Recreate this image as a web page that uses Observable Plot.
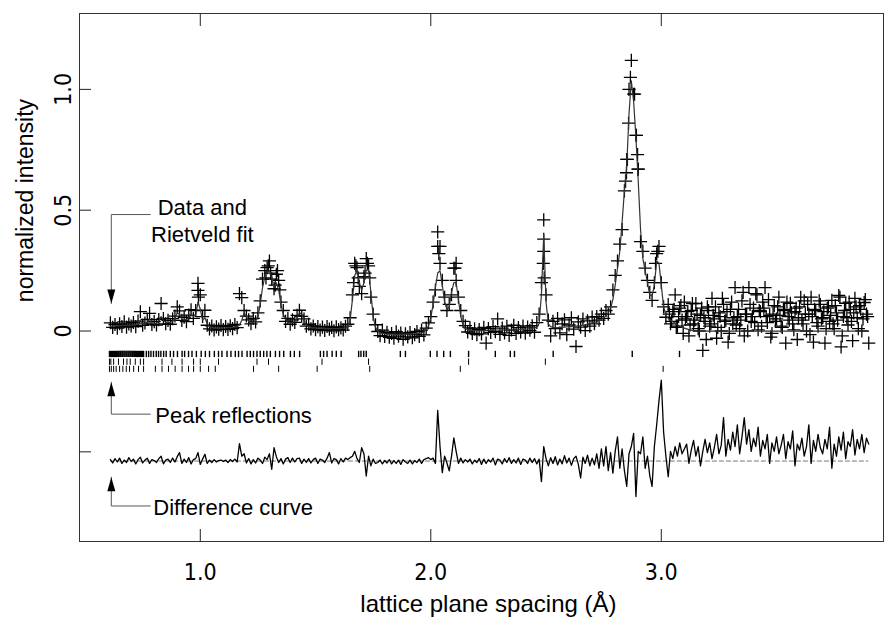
<!DOCTYPE html>
<html><head><meta charset="utf-8">
<script src="https://cdn.jsdelivr.net/npm/d3@7"></script>
<script src="https://cdn.jsdelivr.net/npm/@observablehq/plot@0.6"></script>
<style>
html,body{margin:0;padding:0;background:#fff;}
</style></head><body><div id="chart"></div>
<script>
// lattice plane spacing grid (Å)
const dStart = 0.61, dStep = 0.01;

// Rietveld fit (normalized intensity), one value per grid step
const fitValues = [
0.020,0.020,0.021,0.021,0.022,0.022,0.023,0.023,0.024,0.025,
0.026,0.027,0.032,0.045,0.030,0.028,0.036,0.048,0.033,0.031,
0.032,0.040,0.060,0.045,0.036,0.035,0.036,0.040,0.050,0.075,
0.070,0.050,0.045,0.048,0.055,0.070,0.060,0.065,0.120,0.090,
0.045,0.055,0.030,0.018,0.014,0.012,0.012,0.012,0.013,0.013,
0.013,0.014,0.014,0.015,0.016,0.018,0.025,0.045,0.075,0.060,
0.040,0.035,0.036,0.042,0.060,0.110,0.180,0.225,0.245,0.250,
0.220,0.180,0.200,0.170,0.110,0.070,0.048,0.038,0.034,0.035,
0.040,0.055,0.075,0.070,0.045,0.025,0.018,0.015,0.014,0.013,
0.012,0.012,0.011,0.011,0.011,0.010,0.010,0.010,0.010,0.010,
0.010,0.011,0.013,0.020,0.045,0.130,0.230,0.250,0.200,0.170,
0.200,0.250,0.255,0.160,0.060,0.015,0.000,-0.008,-0.010,-0.012,
-0.012,-0.013,-0.013,-0.013,-0.014,-0.014,-0.014,-0.014,-0.013,-0.013,
-0.013,-0.012,-0.012,-0.011,-0.010,-0.008,-0.004,0.005,0.020,0.055,
0.110,0.180,0.240,0.250,0.190,0.120,0.090,0.100,0.160,0.200,
0.200,0.130,0.060,0.025,0.010,0.005,0.003,0.002,0.002,0.002,
0.002,0.002,0.002,0.003,0.003,0.003,0.003,0.004,0.004,0.004,
0.004,0.005,0.005,0.005,0.005,0.006,0.006,0.006,0.007,0.008,
0.008,0.009,0.010,0.011,0.013,0.016,0.030,0.150,0.400,0.120,
0.030,0.018,0.015,0.014,0.014,0.015,0.015,0.016,0.017,0.018,
0.018,0.019,0.020,0.021,0.022,0.024,0.026,0.028,0.030,0.033,
0.036,0.039,0.043,0.048,0.055,0.063,0.075,0.095,0.130,0.190,
0.260,0.330,0.450,0.580,0.680,0.900,1.035,0.950,0.800,0.620,
0.420,0.300,0.250,0.200,0.150,0.145,0.190,0.290,0.280,0.190,
0.100,0.065,0.052,0.045,0.038,0.032,0.026,0.021,0.016,0.012,
0.009,0.006,0.004,0.002,0.001,0.000,0.000,0.000,0.000,0.000,
0.000,0.000,0.000,0.000,0.000,0.000,0.000,0.000,0.000,0.000,
0.000,0.000,0.000,0.000,0.000,0.000,0.000,0.000,0.000,0.000,
0.000,0.000,0.000,0.000,0.000,0.000,0.000,0.000,0.000,0.000,
0.000,0.000,0.000,0.000,0.000,0.000,0.000,0.000,0.000,0.000,
0.000,0.000,0.000,0.000,0.000,0.000,0.000,0.000,0.000,0.000,
0.000,0.000,0.000,0.000,0.000,0.000,0.000,0.000,0.000,0.000,
0.000,0.000,0.000,0.000,0.000,0.000,0.000,0.000,0.000,0.000
];

// measured data (+), one value per grid step
const obsValues = [
0.034,0.015,0.027,0.012,0.030,0.019,0.038,0.016,0.029,0.021,
0.035,0.018,0.041,0.080,0.024,0.033,0.048,0.073,0.027,0.039,
0.025,0.047,0.114,0.052,0.030,0.044,0.028,0.051,0.062,0.100,
0.083,0.044,0.057,0.039,0.066,0.088,0.052,0.085,0.197,0.150,
0.060,0.086,0.024,0.009,0.021,0.004,0.017,0.008,0.023,0.006,
0.019,0.007,0.022,0.010,0.027,0.014,0.155,0.138,0.085,0.062,
0.046,0.030,0.052,0.038,0.075,0.125,0.215,0.250,0.262,0.290,
0.215,0.175,0.235,0.210,0.120,0.085,0.040,0.052,0.028,0.046,
0.036,0.065,0.086,0.061,0.050,0.020,0.028,0.009,0.021,0.006,
0.018,0.004,0.016,0.002,0.019,0.008,0.015,0.001,0.017,0.006,
0.013,0.004,0.020,0.028,0.055,0.150,0.280,0.262,0.185,0.155,
0.225,0.300,0.270,0.140,0.070,0.026,-0.002,-0.019,0.004,-0.022,
-0.005,-0.026,-0.010,-0.030,-0.003,-0.021,-0.008,-0.034,-0.012,-0.024,
-0.006,-0.028,-0.015,-0.002,-0.022,0.004,-0.016,0.012,0.034,0.060,
0.120,0.170,0.410,0.350,0.210,0.140,0.085,0.110,0.150,0.260,
0.280,0.140,0.085,0.040,0.022,-0.004,0.013,-0.010,0.009,-0.015,
0.006,-0.012,0.015,-0.050,0.010,-0.006,0.018,-0.003,0.050,-0.014,
0.012,-0.008,0.020,-0.018,0.004,0.024,-0.010,0.014,-0.004,0.021,
-0.009,0.016,0.003,0.022,-0.005,0.035,0.070,0.200,0.460,0.150,
0.045,-0.020,0.040,0.010,0.052,-0.008,0.030,0.046,-0.015,0.025,
0.055,0.008,-0.064,0.038,0.016,0.050,0.002,0.042,0.020,0.058,
0.030,0.060,0.045,0.070,0.052,0.085,0.070,0.100,0.170,0.230,
0.290,0.360,0.420,0.580,0.710,1.000,1.120,0.980,0.810,0.670,
0.370,0.330,0.260,0.210,0.160,0.127,0.200,0.320,0.350,0.200,
0.100,0.057,0.110,0.030,0.080,0.150,0.020,0.095,0.045,0.120,
0.060,-0.020,0.085,0.030,0.114,0.010,0.065,-0.080,0.040,0.100,
0.020,0.135,0.050,-0.030,0.075,0.000,0.110,0.045,-0.046,0.090,
0.030,0.180,0.060,0.010,0.125,-0.020,0.070,0.180,0.040,0.095,
0.155,0.005,0.080,0.120,0.180,0.035,0.065,-0.010,0.105,0.050,
0.140,0.020,0.090,-0.050,0.060,0.115,0.030,0.080,-0.035,0.100,
0.045,0.125,0.000,0.070,0.140,-0.046,0.085,0.020,0.110,0.055,
-0.050,0.095,0.040,0.127,0.010,0.075,0.147,-0.066,0.060,0.115,
0.025,0.090,-0.040,0.135,0.055,0.105,0.000,0.118,0.070,-0.050
];

// extra measured points between grid steps in the high-d region (3.035 … 3.895)
const obsExtraStart = 3.035;
const obsExtraValues = [
0.070,0.040,0.090,0.015,0.060,0.105,-0.010,0.050,0.080,0.025,
0.114,0.045,0.070,0.000,0.095,0.055,-0.035,0.085,0.030,0.065,
0.100,0.015,0.060,0.135,0.040,0.080,-0.010,0.120,0.055,0.025,
0.090,0.045,0.160,0.070,0.000,0.110,0.060,0.035,0.150,0.085,
0.020,0.095,0.060,0.130,-0.025,0.070,0.040,0.100,0.065,0.015,
0.085,0.120,0.045,0.075,0.005,0.095,0.055,0.140,0.030,0.070,
0.110,-0.015,0.060,0.090,0.035,0.125,0.050,0.080,0.010,0.100,
0.065,0.030,0.105,0.045,0.140,-0.020,0.085,0.055,0.120,0.040,
0.075,0.100,0.010,0.090,0.050,0.130,0.060
];

// stacked measured points on peaks
const peakPointD = [0.990,0.992,1.285,1.295,1.305,1.325,1.335,1.345,1.665,1.675,1.685,1.715,1.725,1.735,
  2.030,2.035,2.040,2.105,2.110,2.490,2.490,2.488,2.492,2.866,2.858,2.853,2.849,2.845,2.884,2.892,2.897,2.899,2.985,2.975];
const peakPointV = [0.168,0.140,0.220,0.270,0.240,0.190,0.250,0.170,0.200,0.270,0.220,0.240,0.280,0.220,
  0.350,0.320,0.280,0.260,0.210,0.380,0.330,0.280,0.220,1.050,0.860,0.710,0.655,0.620,0.980,0.810,0.730,0.670,0.330,0.280];

// difference curve (observed − calculated), one value per grid step
const diffValues = [
0.006,-0.008,0.010,-0.004,0.012,-0.010,0.004,-0.006,0.014,-0.002,
0.008,-0.012,0.006,0.016,-0.008,0.004,0.012,-0.010,0.006,0.002,
-0.006,0.010,0.020,-0.012,0.004,0.008,-0.006,0.012,-0.004,0.018,
0.035,-0.010,0.008,-0.006,0.014,-0.012,0.006,0.010,0.035,-0.014,
0.008,0.028,-0.010,0.004,-0.006,0.006,-0.004,0.002,0.004,-0.002,
0.004,-0.006,0.006,-0.002,0.008,-0.004,0.072,0.020,0.030,-0.008,
0.010,-0.012,0.006,-0.008,0.012,0.004,-0.010,0.016,0.006,0.030,
-0.034,0.055,0.018,-0.006,0.010,-0.012,0.008,0.014,-0.006,0.012,
-0.004,0.010,0.012,-0.010,0.008,-0.006,0.010,-0.008,0.006,0.012,
-0.010,0.008,0.004,-0.006,0.012,0.035,-0.008,0.010,0.006,-0.012,
0.010,-0.004,0.012,0.006,0.014,0.020,0.040,0.010,-0.006,0.055,
0.030,-0.062,0.020,-0.020,0.008,-0.010,-0.006,0.004,-0.012,0.002,
-0.008,0.006,-0.012,0.002,-0.010,0.004,-0.014,0.006,-0.004,-0.010,
0.004,-0.012,0.002,-0.006,0.008,-0.010,0.006,0.010,0.014,0.006,
0.012,-0.010,0.210,0.060,-0.048,0.020,-0.008,-0.041,0.020,0.096,
0.040,-0.010,0.012,-0.008,0.006,-0.004,0.008,-0.012,0.004,-0.006,
0.010,-0.014,0.008,-0.010,0.006,-0.004,0.012,-0.016,0.008,0.004,
-0.012,0.010,-0.006,0.014,-0.010,0.006,-0.008,0.012,-0.014,0.008,
0.004,-0.010,0.012,-0.006,0.010,-0.012,0.008,-0.085,0.060,0.010,
-0.020,0.014,-0.010,0.018,-0.016,0.008,-0.012,0.022,-0.008,0.012,
-0.018,0.010,0.020,-0.014,-0.070,0.016,-0.010,0.024,-0.020,0.012,
-0.016,0.030,-0.030,0.050,-0.020,0.060,-0.040,0.035,-0.050,0.040,
0.100,-0.030,0.050,-0.040,-0.105,0.030,0.060,0.114,-0.147,0.040,
0.030,0.100,-0.030,0.020,-0.060,-0.105,0.060,0.150,0.250,0.335,
0.120,0.020,-0.065,0.040,0.010,0.060,0.020,0.075,0.030,0.050,
0.070,-0.010,0.045,0.085,0.020,0.060,-0.020,0.040,0.090,0.035,
0.075,0.010,0.055,0.110,0.030,0.065,0.180,0.020,0.090,0.045,
0.120,0.060,0.150,0.030,0.100,0.180,0.070,0.130,0.040,0.095,
0.060,0.140,0.020,0.085,0.050,0.110,-0.010,0.075,0.040,0.100,
0.030,0.065,0.110,0.010,0.080,0.050,0.125,-0.020,0.070,0.045,
0.095,0.020,0.060,0.150,-0.010,0.085,0.040,0.110,0.055,0.030,
0.090,0.050,0.140,-0.030,0.070,0.020,0.100,0.045,0.120,0.010,
0.080,0.060,0.130,0.025,0.090,0.050,0.110,0.035,0.095,0.070
];
const diffOffset = -0.538;

// peak reflection positions (Å), three phases
const reflections1 = [0.606,0.610,0.615,0.619,0.624,0.628,0.633,0.637,0.642,0.646,0.651,0.655,0.660,0.664,0.669,0.673,0.678,0.682,0.687,0.691,0.696,0.700,0.705,0.709,0.714,0.718,0.723,0.727,0.732,0.736,0.741,0.745,0.750,0.754,
0.766,0.776,0.786,0.797,0.809,0.819,0.829,0.841,0.852,0.870,0.884,0.901,0.921,0.932,0.949,0.964,0.983,1.004,1.022,1.040,1.061,1.079,1.094,1.116,1.133,1.152,1.166,1.181,1.203,1.217,1.231,1.246,1.260,1.275,1.289,1.304,1.326,1.344,1.362,1.391,1.408,1.431,1.521,1.535,1.550,1.572,1.590,1.611,1.687,1.697,1.709,1.720,1.868,1.890,1.998,2.027,2.056,2.085,2.164,2.280,2.345,2.363,2.531,2.874,3.079];
const reflections2 = [0.606,0.612,0.624,0.645,0.667,0.682,0.696,0.718,0.740,0.754,0.834,0.877,0.921,0.971,1.000,1.079,1.246,1.296,1.528,1.730,2.164,2.497];
const reflections3 = [0.606,0.614,0.624,0.635,0.650,0.664,0.679,0.693,0.711,0.732,0.754,0.805,0.834,0.862,0.891,0.921,0.949,0.971,1.000,1.036,1.065,1.231,1.340,1.507,1.735,2.128,3.008];

// axes
const xTicks = [1, 2, 3];
const xTickLabels = ["1.0", "2.0", "3.0"];
const yTicks = [1, 0.5, 0, -0.5];
const yTickLabels = ["1.0", "0.5", "0", ""];
const xTitle = "lattice plane spacing (Å)";
const yTitle = "normalized intensity";

// annotations
const noteTexts = ["Data and\nRietveld fit", "Peak reflections", "Difference curve"];

// ---------- build ----------
const W = 886, H = 624, mL = 79, mR = 3, mT = 13, mB = 83;
const innerW = W - mL - mR, innerH = H - mT - mB;
const xDomain = [0.476, 3.964], yDomain = [-0.871, 1.314];

const grid = fitValues.map((f, i) => ({d: +(dStart + i * dStep).toFixed(3), fit: f, obs: obsValues[i], diff: diffValues[i]}));
const extra = obsExtraValues.map((v, i) => ({d: +(obsExtraStart + i * dStep).toFixed(3), obs: v}));
const peaks = peakPointD.map((d, i) => ({d, obs: peakPointV[i]}));
const allObs = grid.map(g => ({d: g.d, obs: g.obs})).concat(extra, peaks);
const dFirst = grid[0].d, dLast = grid[grid.length - 1].d;

const reflRows = [
  {data: reflections1, y1: -0.084, y2: -0.110, w: 1.4},
  {data: reflections2, y1: -0.116, y2: -0.142, w: 1},
  {data: reflections3, y1: -0.146, y2: -0.171, w: 1}
];

// annotation layout (data coordinates)
const arrowX = 0.614, lineEnd = 0.783;
const callouts = [
  {text: noteTexts[0], tx: 1.009, ty: 0.462, lineY: 0.482, tipY: 0.114, dir: 180},
  {text: noteTexts[1], tx: 0.805, ty: -0.352, lineY: -0.344, tipY: -0.212, dir: 0},
  {text: noteTexts[2], tx: 0.796, ty: -0.733, lineY: -0.724, tipY: -0.605, dir: 0}
];
const calloutLines = callouts.flatMap((c, k) => [
  {k, x: lineEnd, y: c.lineY}, {k, x: arrowX, y: c.lineY}, {k, x: arrowX, y: c.tipY}
]);
const headShape = {draw(ctx, l) { ctx.moveTo(0, -l); ctx.lineTo(-4, 0); ctx.lineTo(4, 0); ctx.closePath(); }};

const narrow = "'Liberation Sans Narrow','Arial Narrow','DejaVu Sans Condensed',sans-serif";
const sans = "'Liberation Sans',Arial,Helvetica,sans-serif";

const chart = Plot.plot({
  width: W, height: H,
  marginLeft: mL, marginRight: mR, marginTop: mT, marginBottom: mB,
  x: {domain: xDomain, axis: null},
  y: {domain: yDomain, axis: null},
  style: {background: "white", color: "black", fontFamily: sans},
  marks: [
    // reflection tick rows
    ...reflRows.map(r => Plot.ruleX(r.data, {x: d => d, y1: r.y1, y2: r.y2, stroke: "black", strokeWidth: r.w})),
    // difference zero line + curve
    Plot.ruleY([diffOffset], {x1: dFirst, x2: dLast, stroke: "#555", strokeWidth: 0.8, strokeDasharray: "5,2"}),
    Plot.line(grid, {x: "d", y: d => diffOffset + d.diff, stroke: "black", strokeWidth: 1.3}),
    // data points
    Plot.dot(allObs, {x: "d", y: "obs", symbol: "plus", r: 4.3, stroke: "black", fill: "none", strokeWidth: 1.3}),
    // fit curve
    Plot.line(grid, {x: "d", y: "fit", stroke: "#333", strokeWidth: 1.2}),
    // callouts
    Plot.line(calloutLines, {x: "x", y: "y", z: "k", stroke: "#555", strokeWidth: 1}),
    Plot.vector(callouts, {x: arrowX, y: "tipY", rotate: "dir", length: 14, anchor: "end", shape: headShape, fill: "black", stroke: "none"}),
    Plot.text(callouts.slice(0, 1), {x: "tx", y: "ty", text: "text", textAnchor: "middle", lineAnchor: "middle", fontSize: 22, lineHeight: 1.23, fill: "black"}),
    Plot.text(callouts.slice(1), {x: "tx", y: "ty", text: "text", textAnchor: "start", lineAnchor: "middle", fontSize: 22, fill: "black"}),
    // frame and inward ticks
    Plot.frame({stroke: "#333", strokeWidth: 1}),
    Plot.ruleX(xTicks, {x: d => d, insetTop: innerH - 12, stroke: "#222"}),
    Plot.ruleX(xTicks, {x: d => d, insetBottom: innerH - 13, stroke: "#222"}),
    Plot.ruleY(yTicks, {y: d => d, insetRight: innerW - 12, stroke: "#222"}),
    // tick labels
    Plot.text(xTicks, {x: d => d, text: (d, i) => xTickLabels[i], frameAnchor: "bottom", textAnchor: "middle", lineAnchor: "middle", dy: 31, fontSize: 23, fontFamily: narrow, fill: "black"}),
    Plot.text(yTicks, {y: d => d, text: (d, i) => yTickLabels[i], frameAnchor: "left", textAnchor: "middle", lineAnchor: "middle", dx: -16, rotate: -90, fontSize: 23, fontFamily: narrow, fill: "black"}),
    // axis titles
    Plot.text([xTitle], {x: 2.25, text: d => d, frameAnchor: "bottom", textAnchor: "middle", lineAnchor: "middle", dy: 63, fontSize: 24, fill: "black"}),
    Plot.text([yTitle], {y: 0.54, text: d => d, frameAnchor: "left", textAnchor: "middle", lineAnchor: "middle", dx: -54, rotate: -90, fontSize: 23, fill: "black"})
  ]
});
document.getElementById("chart").appendChild(chart);
</script>
</body></html>
